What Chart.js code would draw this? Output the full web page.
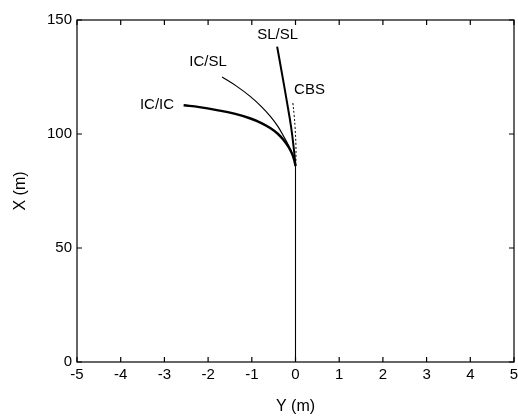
<!DOCTYPE html>
<html>
<head>
<meta charset="utf-8">
<script src="https://cdn.jsdelivr.net/npm/chart.js@4.4.0/dist/chart.umd.min.js"></script>
<style>
  html,body{margin:0;padding:0;background:#fff;}
  #wrap{width:518px;height:419px;}
</style>
</head>
<body>
<div id="wrap"><canvas id="chart" width="518" height="419"></canvas></div>
<script>
// Data (lateral Y, longitudinal X, metres)
const stemY = [0, 0];
const stemX = [0, 86];

const icicY = [-2.56, -2.2, -1.8, -1.4, -1.03, -0.78, -0.57, -0.4, -0.27, -0.16, -0.08, -0.03, 0];
const icicX = [112.6, 111.8, 110.5, 108.9, 106.8, 104.8, 102.5, 100, 97.3, 94.4, 91.4, 88.6, 86];

const icslY = [-1.68, -1.35, -1.03, -0.78, -0.57, -0.4, -0.27, -0.15, -0.05, 0];
const icslX = [125, 121, 116.4, 112, 107.6, 103.2, 98.9, 94.6, 90.2, 87];

const slslY = [-0.42, -0.3, -0.2, -0.1, -0.03, 0];
const slslX = [138.3, 125.5, 114.5, 103, 92, 86];

const cbsY = [-0.06, -0.03, -0.01, 0.01, 0.01];
const cbsX = [113.6, 108, 103, 95, 88];

// curve labels (text and data position)
const labelText = ["SL/SL", "IC/SL", "CBS", "IC/IC"];
const labelY = [-0.41, -2.0, 0.32, -3.17];
const labelX = [143.4, 131.5, 119.2, 113];

const xTicks = [-5, -4, -3, -2, -1, 0, 1, 2, 3, 4, 5];
const yTicks = [0, 50, 100, 150];

const FONT = "'Liberation Sans', Arial, sans-serif";

function pts(xs, ys) { return xs.map((v, i) => ({x: v, y: ys[i]})); }

function series(label, xs, ys, width, dash) {
    return {
        label: label,
        data: pts(xs, ys),
        showLine: true,
        borderColor: "#000",
        borderWidth: width,
        borderDash: dash || [],
        pointRadius: 0,
        tension: 0.4,
        fill: false
    };
}

// box + inward ticks + curve labels
const frame = {
    id: "frame",
    afterDraw(chart) {
        const ctx = chart.ctx, a = chart.chartArea;
        const sx = chart.scales.x, sy = chart.scales.y;
        ctx.save();
        ctx.strokeStyle = "#000";
        ctx.lineWidth = 1.2;
        ctx.strokeRect(a.left, a.top, a.right - a.left, a.bottom - a.top);
        const t = 5;
        ctx.beginPath();
        xTicks.forEach(v => {
            const px = sx.getPixelForValue(v);
            ctx.moveTo(px, a.bottom); ctx.lineTo(px, a.bottom - t);
            ctx.moveTo(px, a.top); ctx.lineTo(px, a.top + t);
        });
        yTicks.forEach(v => {
            const py = sy.getPixelForValue(v);
            ctx.moveTo(a.left, py); ctx.lineTo(a.left + t, py);
            ctx.moveTo(a.right, py); ctx.lineTo(a.right - t, py);
        });
        ctx.stroke();
        ctx.fillStyle = "#000";
        ctx.font = "15px " + FONT;
        ctx.textAlign = "center";
        ctx.textBaseline = "middle";
        labelText.forEach((s, i) => {
            ctx.fillText(s, sx.getPixelForValue(labelY[i]), sy.getPixelForValue(labelX[i]));
        });
        ctx.restore();
    }
};

new Chart(document.getElementById("chart"), {
    type: "scatter",
    data: {
        datasets: [
            series("stem", stemY, stemX, 1.1),
            series("IC/IC", icicY, icicX, 2.4),
            series("IC/SL", icslY, icslX, 1.2),
            series("SL/SL", slslY, slslX, 2),
            series("CBS", cbsY, cbsX, 1, [2, 2])
        ]
    },
    options: {
        responsive: false,
        animation: false,
        layout: {padding: {top: 20, right: 4, left: 0, bottom: 0}},
        plugins: {legend: {display: false}, tooltip: {enabled: false}},
        scales: {
            x: {
                type: "linear", min: -5, max: 5,
                afterBuildTicks: s => { s.ticks = xTicks.map(v => ({value: v})); },
                afterFit: s => { s.height = 57; s.paddingLeft = 0; s.paddingRight = 0; },
                grid: {display: false, drawTicks: false},
                border: {display: false},
                ticks: {color: "#000", padding: 4, font: {family: FONT, size: 15}, maxRotation: 0},
                title: {display: true, text: "Y (m)", color: "#000", font: {family: FONT, size: 16}, padding: {top: 0, bottom: 3}}
            },
            y: {
                type: "linear", min: 0, max: 150,
                afterBuildTicks: s => { s.ticks = yTicks.map(v => ({value: v})); },
                afterFit: s => { s.width = 77; s.paddingTop = 0; s.paddingBottom = 0; },
                grid: {display: false, drawTicks: false},
                border: {display: false},
                ticks: {color: "#000", padding: 5, font: {family: FONT, size: 15}},
                title: {display: true, text: "X (m)", color: "#000", font: {family: FONT, size: 16}, padding: {top: 11, bottom: 0}}
            }
        }
    },
    plugins: [frame]
});
</script>
</body>
</html>
